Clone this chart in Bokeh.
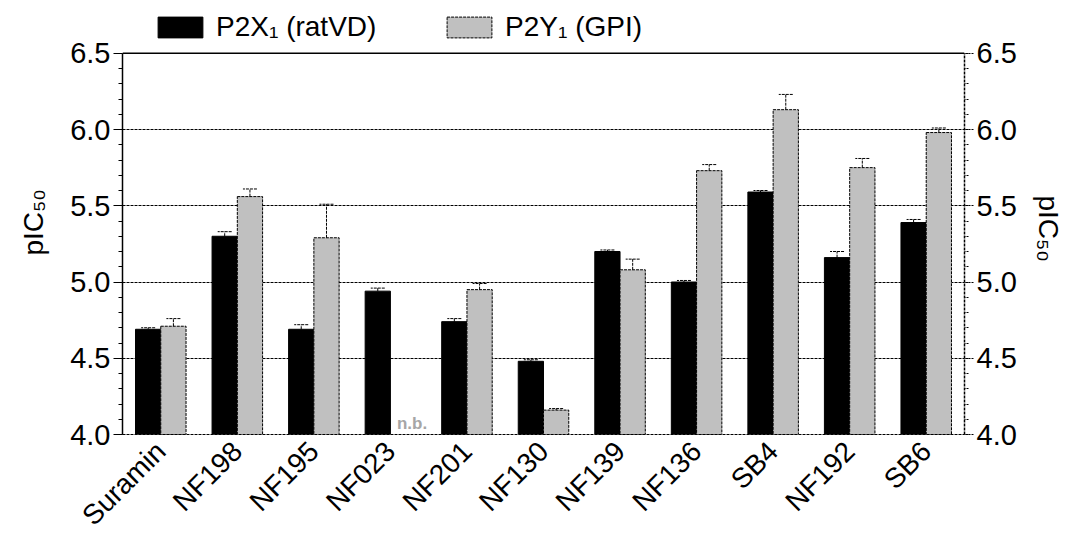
from bokeh.plotting import figure
from bokeh.models import (ColumnDataSource, FactorRange, Range1d, LinearAxis, SingleIntervalTicker,
                          FixedTicker, PrintfTickFormatter, Legend, LegendItem, Whisker, TeeHead,
                          Span, Title)
from bokeh.transform import dodge
from bokeh.core.properties import value
from bokeh.embed import file_html
from bokeh.resources import INLINE
import math

categories = ["Suramin", "NF198", "NF195", "NF023", "NF201", "NF130", "NF139",
              "NF136", "SB4", "NF192", "SB6"]
p2x = [4.69, 5.30, 4.69, 4.94, 4.74, 4.48, 5.20, 5.00, 5.59, 5.16, 5.39]
p2x_err = [0.01, 0.03, 0.03, 0.02, 0.02, 0.01, 0.01, 0.01, 0.01, 0.04, 0.02]
p2y = [4.71, 5.56, 5.29, None, 4.95, 4.16, 5.08, 5.73, 6.13, 5.75, 5.98]
p2y_err = [0.05, 0.05, 0.22, None, 0.04, 0.01, 0.07, 0.04, 0.10, 0.06, 0.03]
nb_label = "n.b."
y_label = "pIC₅₀"
y_min, y_max = 4.0, 6.5

FONT = "Liberation Sans"

src_x = ColumnDataSource(dict(cat=categories, top=p2x,
                              upper=[v + e for v, e in zip(p2x, p2x_err)]))
gy = [(c, v, e) for c, v, e in zip(categories, p2y, p2y_err) if v is not None]
src_y = ColumnDataSource(dict(cat=[g[0] for g in gy], top=[g[1] for g in gy],
                              upper=[g[1] + g[2] for g in gy]))
nb_cats = [c for c, v in zip(categories, p2y) if v is None]
src_nb = ColumnDataSource(dict(cat=nb_cats, y=[y_min] * len(nb_cats), t=[nb_label] * len(nb_cats)))

H, BOTTOM, TOP = 545, 109, 53
frame_h = H - BOTTOM
y_end = y_min + (y_max - y_min) * frame_h / (frame_h - TOP)

p = figure(width=1078, height=H, x_range=FactorRange(*categories, range_padding=0),
           y_range=Range1d(y_min, y_end), output_backend="svg", toolbar_location=None,
           y_axis_location=None)
p.min_border_left = 122
p.min_border_right = 114
p.min_border_top = 0
p.min_border_bottom = BOTTOM
p.outline_line_color = None
p.background_fill_color = "white"

# grid
p.xgrid.grid_line_color = None
p.ygrid.ticker = FixedTicker(ticks=[4.5, 5.0, 5.5, 6.0])
p.ygrid.grid_line_color = "black"
p.ygrid.grid_line_dash = "3 1"
p.ygrid.grid_line_width = 1

W = 0.33
rx = p.vbar(x=dodge("cat", -0.165, range=p.x_range), top="top", bottom=y_min, width=W,
            source=src_x, fill_color="black", line_color="black", line_width=1)
ry = p.vbar(x=dodge("cat", 0.165, range=p.x_range), top="top", bottom=y_min, width=W,
            source=src_y, fill_color="#c0c0c0", line_color="black", line_width=1,
            line_dash="3 1")

for src, off in ((src_x, -0.165), (src_y, 0.165)):
    w = Whisker(source=src, base=dodge("cat", off, range=p.x_range), upper="upper", lower="top",
                line_color="black", line_width=1, line_dash="3 1",
                upper_head=TeeHead(size=14, line_color="black", line_width=1, line_dash="3 1"),
                lower_head=None, level="glyph")
    p.add_layout(w)

p.text(x=dodge("cat", 0.165, range=p.x_range), y="y", text="t", source=src_nb,
       text_font=value(FONT), text_font_size="17px", text_font_style="bold",
       text_color="#a6a6a6", text_align="center", text_baseline="bottom",
       x_offset=9, y_offset=-2)

p.add_layout(Span(location=y_max, dimension="width", line_color="black", line_width=1.5))

# axes
ticker = SingleIntervalTicker(interval=0.5, num_minor_ticks=5)
for side in ("left", "right"):
    ax = LinearAxis(ticker=ticker, formatter=PrintfTickFormatter(format="%.1f"),
                    bounds=(y_min, y_max))
    ax.major_label_text_font = FONT
    ax.major_label_text_font_size = "29px"
    ax.major_label_text_color = "black"
    ax.major_label_standoff = 3
    ax.major_tick_out = 9
    ax.major_tick_in = 0
    ax.minor_tick_out = 4
    ax.minor_tick_in = 0
    ax.axis_line_color = "black"
    ax.axis_line_width = 1.5
    ax.major_tick_line_width = 1
    ax.minor_tick_line_width = 1
    if side == "right":
        ax.axis_line_dash = "3 1"
        ax.major_tick_line_dash = "2 1"
        ax.minor_tick_line_dash = "2 1"
    p.add_layout(ax, side)
    t = Title(text=y_label, align="left", vertical_align="top", text_font=FONT,
              text_font_size="28px", text_font_style="normal", text_color="black",
              standoff=34 if side == "left" else 22,
              offset=179 if side == "left" else 195)
    p.add_layout(t, side)

xa = p.xaxis[0]
xa.major_label_orientation = math.pi / 4
xa.major_label_text_font = FONT
xa.major_label_text_font_size = "28px"
xa.major_label_text_color = "black"
xa.major_tick_line_color = None
xa.minor_tick_line_color = None
xa.axis_line_color = "black"
xa.axis_line_dash = "3 1"
xa.axis_line_width = 1
xa.major_label_standoff = 6

for rend, label, xloc in ((rx, "P2X₁ (ratVD)", 30), (ry, "P2Y₁ (GPI)", 319)):
    lg = Legend(items=[LegendItem(label=label, renderers=[rend])], location=(xloc, frame_h - 45),
                padding=0, margin=0, border_line_color=None, background_fill_alpha=0,
                label_text_font=FONT, label_text_font_size="28px", label_text_color="black",
                glyph_width=56, glyph_height=26, label_standoff=8, label_height=26)
    p.add_layout(lg, "center")

open("out.html", "w").write(file_html(p, INLINE))
